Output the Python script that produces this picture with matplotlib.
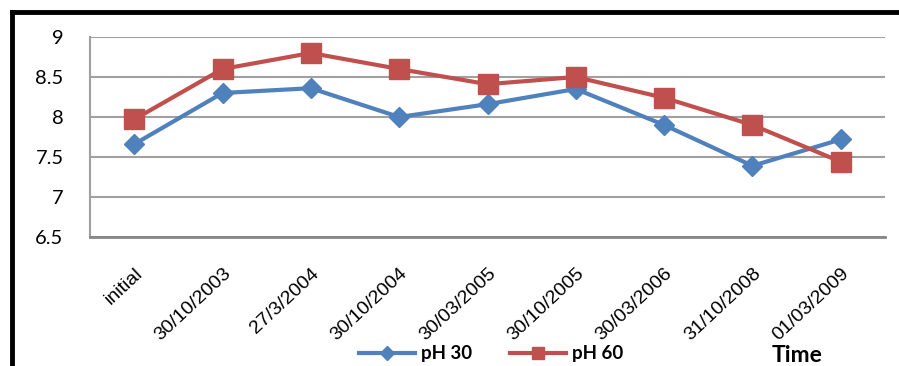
import matplotlib.pyplot as plt
from matplotlib.lines import Line2D

dates = ['initial', '30/10/2003', '27/3/2004', '30/10/2004', '30/03/2005',
         '30/10/2005', '30/03/2006', '31/10/2008', '01/03/2009']
ph30 = [7.66, 8.30, 8.36, 8.00, 8.16, 8.35, 7.90, 7.39, 7.72]
ph60 = [7.97, 8.60, 8.80, 8.60, 8.41, 8.50, 8.24, 7.90, 7.44]

blue = '#4F81BD'
red = '#C0504D'
grid = '#A0A0A0'

fig = plt.figure(figsize=(8.99, 3.66), dpi=100)
ax = fig.add_axes([90 / 899, 1 - 237 / 366, 795 / 899, 200 / 366])

x = range(len(dates))
ax.plot(x, ph30, color=blue, lw=3, marker='D', ms=10, zorder=3)
ax.plot(x, ph60, color=red, lw=3, marker='s', ms=14.5, zorder=4)

ax.set_xlim(-0.5, len(dates) - 0.5)
ax.set_ylim(6.5, 9)
ax.set_yticks([6.5, 7, 7.5, 8, 8.5, 9])
ax.set_yticklabels(['6.5', '7', '7.5', '8', '8.5', '9'],
                   fontfamily='Lato', fontsize=14.5)
ax.yaxis.grid(True, color=grid, lw=1.5)
ax.set_axisbelow(True)
ax.tick_params(axis='y', length=0, pad=19)

ax.set_xticks(list(x))
ax.set_xticklabels(dates, rotation=43, ha='right', va='top',
                   rotation_mode='anchor', fontfamily='Liberation Sans',
                   fontsize=14)
ax.tick_params(axis='x', length=0, pad=20)

for side in ['top', 'right']:
    ax.spines[side].set_visible(False)
ax.spines['left'].set_color(grid)
ax.spines['left'].set_linewidth(1.5)
ax.spines['bottom'].set_color('#888888')
ax.spines['bottom'].set_linewidth(2)

# legend drawn at the bottom, overlapping the rotated labels
handles = [Line2D([], [], color=blue, lw=3, marker='D', ms=7),
           Line2D([], [], color=red, lw=3, marker='s', ms=9)]
fig.legend(handles, ['pH 30', 'pH 60'], loc='center',
           bbox_to_anchor=(491 / 899, 1 - 354 / 366), ncol=2, frameon=False,
           handlelength=3.0, handletextpad=0.3, columnspacing=2.0,
           prop={'family': 'Lato', 'weight': 'bold', 'size': 13.5})

fig.text(772 / 899, 1 - 355 / 366, 'Time', fontfamily='Lato',
         fontweight='bold', fontsize=16.5, va='center', ha='left')

# thick frame along the left and top edges
fig.add_artist(Line2D([12 / 899, 12 / 899], [0, 1 - 12 / 366],
                      transform=fig.transFigure, color='black', lw=3.5))
fig.add_artist(Line2D([12 / 899, 1], [1 - 12 / 366, 1 - 12 / 366],
                      transform=fig.transFigure, color='black', lw=3.5))

fig.savefig('out.png', dpi=100)
